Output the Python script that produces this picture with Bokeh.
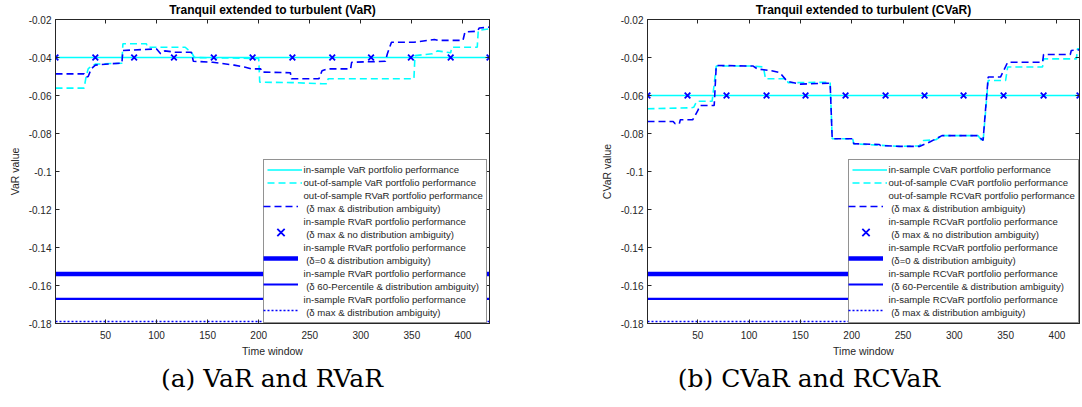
from bokeh.plotting import figure
from bokeh.layouts import row, column
from bokeh.models import Range1d, FixedTicker, LinearAxis, Legend, LegendItem, Div
from bokeh.embed import file_html
from bokeh.resources import INLINE

# ---------------- data ----------------
x_ticks = [50, 100, 150, 200, 250, 300, 350, 400]
y_ticks = [-0.18, -0.16, -0.14, -0.12, -0.1, -0.08, -0.06, -0.04, -0.02]
y_tick_labels = ["-0.18", "-0.16", "-0.14", "-0.12", "-0.1", "-0.08", "-0.06", "-0.04", "-0.02"]

var_x_end = 426
cvar_x_end = 422

var_insample = -0.04
cvar_insample = -0.06
delta0_level = -0.154
delta60_level = -0.167
deltamax_level = -0.179

var_marker_x = [1, 40, 78, 117, 156, 194, 233, 272, 310, 349, 388, 426]
cvar_marker_x = [1, 40, 78, 117, 155, 194, 233, 271, 309, 348, 387, 422]

var_oos_x = [1, 29, 31, 33, 36, 40, 66, 67, 90, 91, 128, 131, 134, 137, 200, 201, 232, 262, 267, 268,
             352, 353, 370, 375, 388, 389, 414, 415, 426]
var_oos_y = [-0.0561, -0.0561, -0.0500, -0.0460, -0.0445, -0.0435, -0.0430, -0.0328, -0.0328, -0.0346,
             -0.0346, -0.0360, -0.0372, -0.0400, -0.0405, -0.0530, -0.0532, -0.0538, -0.0538, -0.0512,
             -0.0512, -0.0390, -0.0380, -0.0365, -0.0375, -0.0346, -0.0346, -0.0258, -0.0249]

rvar_oos_x = [1, 29, 31, 33, 36, 40, 55, 66, 67, 88, 100, 104, 108, 118, 134, 136, 155, 176, 186, 193,
              202, 203, 231, 232, 259, 262, 267, 290, 291, 324, 326, 330, 352, 372, 376, 400, 402, 414,
              416, 426]
rvar_oos_y = [-0.0486, -0.0486, -0.0504, -0.0500, -0.0460, -0.0440, -0.0433, -0.0430, -0.0363, -0.0358,
              -0.0355, -0.0380, -0.0365, -0.0372, -0.0372, -0.0420, -0.0425, -0.0440, -0.0450, -0.0460,
              -0.0460, -0.0477, -0.0480, -0.0512, -0.0512, -0.0470, -0.0460, -0.0460, -0.0425, -0.0420,
              -0.0380, -0.0320, -0.0320, -0.0305, -0.0310, -0.0310, -0.0265, -0.0262, -0.0245, -0.0240]

cvar_oos_x = [1, 43, 46, 49, 64, 66, 68, 104, 114, 116, 137, 138, 179, 181, 201, 202, 247, 266, 270, 282,
              288, 323, 328, 333, 350, 352, 386, 387, 419, 420, 422]
cvar_oos_y = [-0.0670, -0.0665, -0.0662, -0.0630, -0.0630, -0.0540, -0.0445, -0.0445, -0.0450, -0.0512,
              -0.0512, -0.0533, -0.0530, -0.0828, -0.0828, -0.0854, -0.0868, -0.0865, -0.0837, -0.0833,
              -0.0811, -0.0811, -0.0845, -0.0521, -0.0521, -0.0450, -0.0450, -0.0407, -0.0407, -0.0354,
              -0.0354]

rcvar_oos_x = [1, 26, 28, 32, 33, 45, 50, 52, 66, 68, 104, 108, 122, 130, 137, 150, 179, 181, 201, 202,
               227, 228, 247, 266, 276, 282, 288, 323, 328, 333, 345, 352, 386, 387, 413, 414, 422]
rcvar_oos_y = [-0.0737, -0.0737, -0.0749, -0.0749, -0.0728, -0.0728, -0.0680, -0.0653, -0.0653, -0.0442,
               -0.0445, -0.0460, -0.0470, -0.0480, -0.0525, -0.0540, -0.0535, -0.0828, -0.0828, -0.0854,
               -0.0858, -0.0863, -0.0868, -0.0868, -0.0845, -0.0828, -0.0811, -0.0811, -0.0837, -0.0503,
               -0.0503, -0.0425, -0.0425, -0.0384, -0.0384, -0.0363, -0.0360]

var_labels = [
    "in-sample VaR portfolio performance",
    "out-of-sample VaR portfolio performance",
    "out-of-sample RVaR portfolio performance\n(\u03b4 max & distribution ambiguity)",
    "in-sample RVaR portfolio performance\n(\u03b4 max & no distribution ambiguity)",
    "in-sample RVaR portfolio performance\n(\u03b4=0 & distribution ambiguity)",
    "in-sample RVaR portfolio performance\n(\u03b4 60-Percentile & distribution ambiguity)",
    "in-sample RVaR portfolio performance\n(\u03b4 max & distribution ambiguity)",
]
cvar_labels = [
    "in-sample CVaR portfolio performance",
    "out-of-sample CVaR portfolio performance",
    "out-of-sample RCVaR portfolio performance\n(\u03b4 max & distribution ambiguity)",
    "in-sample RCVaR portfolio performance\n(\u03b4 max & no distribution ambiguity)",
    "in-sample RCVaR portfolio performance\n(\u03b4=0 & distribution ambiguity)",
    "in-sample RCVaR portfolio performance\n(\u03b4 60-Percentile & distribution ambiguity)",
    "in-sample RCVaR portfolio performance\n(\u03b4 max & distribution ambiguity)",
]
panel_titles = ["Tranquil extended to turbulent (VaR)", "Tranquil extended to turbulent (CVaR)"]
y_labels = ["VaR value", "CVaR value"]
x_label = "Time window"
captions = ["(a) VaR and RVaR", "(b) CVaR and RCVaR"]

# ---------------- style ----------------
AX = "#262626"
CYAN = "#00FFFF"
BLUE = "#0000FF"
SANS = "Liberation Sans"
FIG_H = 361
LINE_H = 13      # legend text line pitch
LEG_PAD = 3


def style_axis(ax, ticks, overrides=None, labels=True):
    ax.ticker = FixedTicker(ticks=ticks)
    ax.major_tick_in = 4
    ax.major_tick_out = 0
    ax.minor_tick_in = 0
    ax.minor_tick_out = 0
    ax.axis_line_color = AX
    ax.major_tick_line_color = AX
    ax.major_label_text_font = SANS
    ax.axis_label_text_font = SANS
    ax.axis_label_text_font_style = "normal"
    ax.axis_label_text_color = AX
    ax.axis_label_text_font_size = "10.5px"
    if overrides:
        ax.major_label_overrides = overrides
    if labels:
        ax.major_label_text_font_size = "10px"
        ax.major_label_text_color = AX
    else:
        ax.major_label_text_font_size = "0px"
        ax.major_label_text_color = None
        ax.major_label_standoff = 0
        ax.axis_label = None


def build(title, ylabel, x_end, width, border_left, border_right, legend_x,
          insample, oos_x, oos_y, r_x, r_y, mk_x, labels):
    p = figure(width=width, height=FIG_H, x_range=Range1d(1, x_end), y_range=Range1d(-0.18, -0.02),
               output_backend="svg", toolbar_location=None,
               min_border_left=border_left, min_border_right=border_right,
               min_border_top=19, min_border_bottom=38,
               background_fill_color="white", border_fill_color="white",
               outline_line_color=AX, outline_line_width=1)
    p.xgrid.visible = False
    p.ygrid.visible = False

    p.title.text = title
    p.title.align = "center"
    p.title.vertical_align = "top"
    p.title.text_font = SANS
    p.title.text_font_size = "12px"
    p.title.text_font_style = "bold"
    p.title.text_color = "black"
    p.title.standoff = 2

    style_axis(p.xaxis[0], x_ticks)
    p.xaxis[0].axis_label = x_label
    p.xaxis[0].major_label_standoff = 7
    p.xaxis[0].axis_label_standoff = 3
    overrides = {t: s for t, s in zip(y_ticks, y_tick_labels)}
    style_axis(p.yaxis[0], y_ticks, overrides)
    p.yaxis[0].axis_label = ylabel
    p.yaxis[0].major_label_standoff = 4
    p.yaxis[0].axis_label_standoff = 5

    top = LinearAxis()
    style_axis(top, x_ticks, labels=False)
    p.add_layout(top, "above")
    right = LinearAxis()
    style_axis(right, y_ticks, labels=False)
    p.add_layout(right, "right")

    xs_full = [1, x_end]
    r1 = p.line(xs_full, [insample, insample], line_color=CYAN, line_width=1.6)
    r2 = p.line(oos_x, oos_y, line_color=CYAN, line_width=1.6, line_dash="7 4")
    r3 = p.line(r_x, r_y, line_color=BLUE, line_width=1.6, line_dash="7 4")
    r4 = p.scatter(mk_x, [insample] * len(mk_x), marker="x", size=8, line_color=BLUE, line_width=1.8)
    r5 = p.line(xs_full, [delta0_level, delta0_level], line_color=BLUE, line_width=4.5)
    r6 = p.line(xs_full, [delta60_level, delta60_level], line_color=BLUE, line_width=2.2)
    r7 = p.line(xs_full, [deltamax_level, deltamax_level], line_color=BLUE, line_width=1.5, line_dash="2 2")
    rends = [r1, r2, r3, r4, r5, r6, r7]

    common = dict(location=(legend_x, 0), margin=0, padding=LEG_PAD, spacing=0,
                  glyph_width=35, label_standoff=2, label_text_font=SANS,
                  label_text_font_size="9.6px", label_height=LINE_H)
    # text legend: one row per text line; glyphs only for single-line entries
    items = []
    for lab, r in zip(labels, rends):
        lines = lab.split("\n")
        for k, ln in enumerate(lines):
            txt = ln if k == 0 else "\u00a0" + ln
            items.append(LegendItem(label=txt, renderers=([r] if len(lines) == 1 else [])))
    legend = Legend(items=items, glyph_height=LINE_H, label_text_color=AX,
                    border_line_color=AX, border_line_width=0.8,
                    background_fill_color="white", background_fill_alpha=1.0, **common)
    p.add_layout(legend)
    # glyph legend for the two-line entries, centred between their two text lines
    gitems = [LegendItem(label=" ", renderers=[r]) for lab, r in zip(labels, rends) if "\n" in lab]
    glegend = Legend(items=gitems, glyph_height=2 * LINE_H, label_text_alpha=0.0,
                     border_line_color=None, background_fill_alpha=0.0, **common)
    p.add_layout(glegend)
    return p


left = build(panel_titles[0], y_labels[0], var_x_end, 560, 55, 71, 207.5,
             var_insample, var_oos_x, var_oos_y, rvar_oos_x, rvar_oos_y, var_marker_x, var_labels)
right = build(panel_titles[1], y_labels[1], cvar_x_end, 521, 87, 2, 200.5,
              cvar_insample, cvar_oos_x, cvar_oos_y, rcvar_oos_x, rcvar_oos_y, cvar_marker_x, cvar_labels)

cap_style = {"font-family": "DejaVu Serif", "font-size": "25px", "text-align": "center",
             "color": "black", "line-height": "1.0", "padding-top": "5px", "white-space": "nowrap"}
cap_a = Div(text=captions[0], width=544, height=30, margin=(0, 0, 0, 0), styles=cap_style)
cap_b = Div(text=captions[1], width=530, height=30, margin=(0, 0, 0, 0), styles=cap_style)

layout = column(row(left, right, spacing=0), row(cap_a, cap_b, spacing=0), spacing=0)
open("out.html", "w").write(file_html(layout, INLINE))
